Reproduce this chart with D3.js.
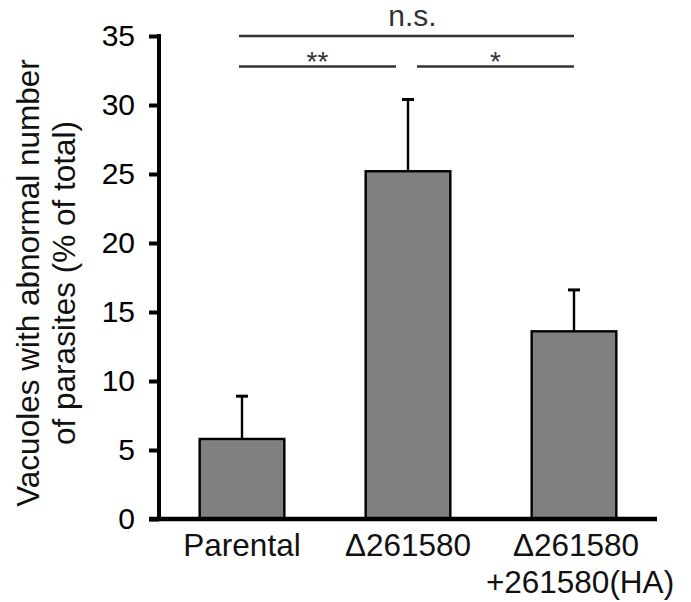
<!DOCTYPE html>
<html>
<head>
<meta charset="utf-8">
<script src="https://cdn.jsdelivr.net/npm/d3@7"></script>
<style>
  html, body { margin: 0; padding: 0; background: #fff; }
  svg { display: block; font-family: "Liberation Sans", Arial, sans-serif; }
</style>
</head>
<body>
<svg id="chart" width="691" height="602"></svg>
<script>
// Strains and measured percentages
const categories = ["Parental", "Δ261580", "Δ261580\n+261580(HA)"];
const means = [5.8, 25.2, 13.6];
const errors = [3.1, 5.2, 3.0];
const yTicks = [0, 5, 10, 15, 20, 25, 30, 35];
const yLabelLines = ["Vacuoles with abnormal number", "of parasites (% of total)"];
// Pairwise comparisons: [from index, to index, label, level]
const comparisons = [
  [0, 2, "n.s.", 0],
  [0, 1, "**", 1],
  [1, 2, "*", 1]
];

const svg = d3.select("#chart");
const x0 = 159, x1 = 657, yBottom = 519, yTop = 36;

const x = d3.scaleBand()
  .domain(categories)
  .range([x0, x1])
  .paddingInner(0.49)
  .paddingOuter(0.245);

const y = d3.scaleLinear().domain([0, 35]).range([yBottom, yTop]);

// Bars
svg.append("g").selectAll("rect")
  .data(means)
  .join("rect")
  .attr("x", (d, i) => x(categories[i]))
  .attr("y", d => y(d))
  .attr("width", x.bandwidth())
  .attr("height", d => y(0) - y(d))
  .attr("fill", "#808080")
  .attr("stroke", "#000")
  .attr("stroke-width", 2.4);

// Upper error bars
const eg = svg.append("g").attr("stroke", "#000").attr("stroke-width", 2.4);
means.forEach((m, i) => {
  const cx = x(categories[i]) + x.bandwidth() / 2;
  eg.append("line").attr("x1", cx).attr("x2", cx).attr("y1", y(m)).attr("y2", y(m + errors[i]));
  eg.append("line").attr("x1", cx - 6).attr("x2", cx + 6)
    .attr("y1", y(m + errors[i])).attr("y2", y(m + errors[i])).attr("stroke-width", 3);
});

// Y axis
const yAxis = d3.axisLeft(y).tickValues(yTicks).tickSize(10).tickPadding(14).tickSizeOuter(0);
const ya = svg.append("g").attr("transform", `translate(${x0},0)`).call(yAxis);
ya.select(".domain").remove();
ya.selectAll(".tick line").attr("stroke", "#000").attr("stroke-width", 4);
ya.selectAll(".tick text")
  .attr("fill", "#000")
  .style("font-size", "30px")
  .style("font-family", "'Liberation Sans', Arial, sans-serif");

// Axis lines
svg.append("line").attr("x1", x0).attr("x2", x0).attr("y1", y(35) - 2).attr("y2", yBottom)
  .attr("stroke", "#000").attr("stroke-width", 4);
svg.append("line").attr("x1", x0 - 10).attr("x2", x1).attr("y1", yBottom).attr("y2", yBottom)
  .attr("stroke", "#000").attr("stroke-width", 4.5);

// Category labels (second line of the last label sits slightly right)
categories.forEach((c, i) => {
  const cx = x(c) + x.bandwidth() / 2;
  const t = svg.append("text").attr("text-anchor", "middle")
    .attr("font-size", 31.5).attr("fill", "#111");
  c.split("\n").forEach((line, k) => {
    t.append("tspan").attr("x", cx + (k === 1 ? 6 : (i === 2 ? 2 : 0)))
      .attr("y", 556 + k * 37).text(line);
  });
});

// Y axis title
const yl = svg.append("text")
  .attr("transform", "translate(0,283) rotate(-90)")
  .attr("text-anchor", "middle")
  .attr("font-size", 31.5)
  .attr("fill", "#111");
yLabelLines.forEach((line, k) => {
  yl.append("tspan").attr("x", 0).attr("y", 39 + k * 36).text(line);
});

// Significance brackets
const levelY = [36, 66.5];
const centre = i => x(categories[i]) + x.bandwidth() / 2;
comparisons.forEach(([a, b, label, lvl]) => {
  let xa = centre(a) - 3, xb = centre(b);
  if (lvl === 1 && a === 0) xb = centre(b) - 12;
  if (lvl === 1 && a === 1) xa = centre(a) + 9;
  svg.append("line").attr("x1", xa).attr("x2", xb)
    .attr("y1", levelY[lvl]).attr("y2", levelY[lvl])
    .attr("stroke", "#333").attr("stroke-width", 2.5);
  svg.append("text")
    .attr("x", (xa + xb) / 2 + (lvl === 0 ? 6 : 0))
    .attr("y", lvl === 0 ? 26 : 71)
    .attr("text-anchor", "middle")
    .attr("font-size", lvl === 0 ? 30 : 28)
    .attr("fill", "#333")
    .text(label);
});
</script>
</body>
</html>
